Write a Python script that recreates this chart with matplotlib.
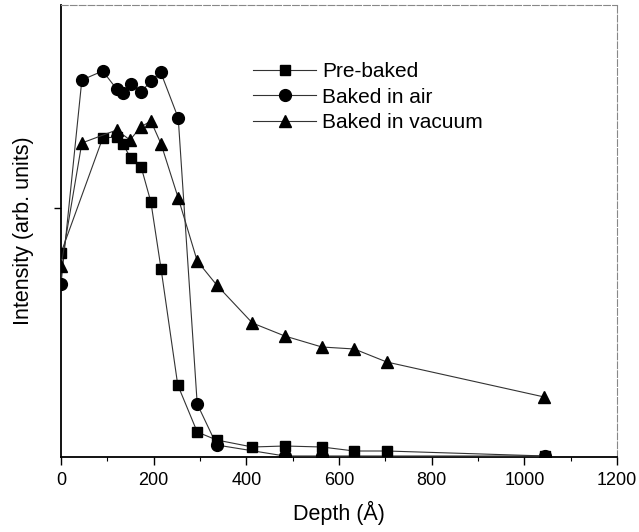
import numpy as np
import matplotlib
matplotlib.use('Agg')
import matplotlib.pyplot as plt
from matplotlib.ticker import MultipleLocator

plt.rcParams['font.family'] = ['Liberation Sans', 'DejaVu Sans']

# ---------------- data (arb. units) ----------------
pre_x = [0, 90, 120, 134, 150, 173, 194, 216, 252, 294, 336, 413, 483, 563, 633, 703, 1045]
pre_y = [204, 319, 320, 313, 299, 290, 255, 188, 72, 25, 17, 10, 11, 10, 6, 6, 1]

air_x = [0, 45, 90, 120, 134, 150, 173, 194, 215, 253, 294, 336, 483, 563, 1045]
air_y = [173, 377, 386, 368, 364, 373, 365, 376, 385, 339, 53, 12, 1, 1, 1]

vac_x = [0, 45, 120, 149, 172, 194, 216, 253, 294, 336, 413, 483, 563, 633, 703, 1043]
vac_y = [191, 314, 327, 317, 330, 336, 313, 259, 196, 172, 134, 121, 110, 108, 95, 60]

fig = plt.figure(figsize=(6.39, 5.32), dpi=100)
ax = fig.add_axes([61 / 639, 1 - 457 / 532, 556 / 639, 452 / 532])

lc = '#333333'
ax.plot(air_x, air_y, '-', color=lc, lw=0.8, marker='o', ms=8.5,
        mfc='black', mec='black', label='Baked in air', zorder=3)
ax.plot(pre_x, pre_y, '-', color=lc, lw=0.8, marker='s', ms=7.5,
        mfc='black', mec='black', label='Pre-baked', zorder=4)
ax.plot(vac_x, vac_y, '-', color=lc, lw=0.8, marker='^', ms=9,
        mfc='black', mec='black', label='Baked in vacuum', zorder=5)

ax.set_xlim(0, 1200)
ax.set_ylim(0, 452)
ax.xaxis.set_major_locator(MultipleLocator(200))
ax.xaxis.set_minor_locator(MultipleLocator(100))
ax.set_yticks([249])
ax.set_yticklabels([])
ax.tick_params(axis='x', which='major', direction='out', length=6, width=1,
               labelsize=13, pad=5)
ax.tick_params(axis='x', which='minor', direction='out', length=3, width=0.8)
ax.tick_params(axis='y', direction='out', length=5, width=1)
ax.tick_params(top=False, right=False)

for s in ['left', 'bottom']:
    ax.spines[s].set_linewidth(1.3)
ax.spines['top'].set_linewidth(0.8)
ax.spines['top'].set_color('#888888')
ax.spines['top'].set_linestyle((0, (6, 2)))
ax.spines['right'].set_linewidth(0.8)
ax.spines['right'].set_color('#888888')
ax.spines['right'].set_linestyle((0, (6, 2)))

ax.set_xlabel('Depth (Å)', fontsize=15.5, labelpad=8)
ax.set_ylabel('Intensity (arb. units)', fontsize=15.5, labelpad=11)

h, l = ax.get_legend_handles_labels()
order = [1, 0, 2]
ax.legend([h[i] for i in order], [l[i] for i in order], frameon=False,
          fontsize=15, loc='upper left', bbox_to_anchor=(245 / 639, 1 - 54 / 532),
          bbox_transform=fig.transFigure, handlelength=3.0, labelspacing=0.3,
          handletextpad=0.3, borderaxespad=0)

fig.savefig('out.png', dpi=100)
